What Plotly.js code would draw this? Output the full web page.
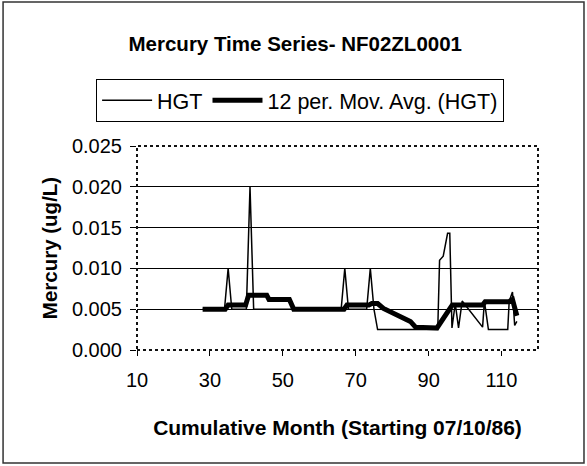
<!DOCTYPE html>
<html>
<head>
<meta charset="utf-8">
<script src="https://cdn.plot.ly/plotly-3.0.1.min.js"></script>
<style>html,body{margin:0;padding:0;background:#fff;}#chart{width:587px;height:466px;}</style>
</head>
<body>
<div id="chart"></div>
<script>
// HGT measured values (cumulative month, mercury ug/L)
var hgtMonths = [28, 34, 35, 36, 40, 41, 42, 66, 67, 68, 73, 74, 75, 76, 92.5, 93, 94, 95.2, 95.8, 96.4, 97.3, 98.2, 99.2, 100.1, 104.8, 105.3, 106.4, 111.7, 112.1, 113, 113.6, 114.2];
var hgtValues = [0.005, 0.005, 0.010, 0.005, 0.005, 0.020, 0.005, 0.005, 0.010, 0.005, 0.005, 0.010, 0.005, 0.0025, 0.0025, 0.011, 0.0115, 0.0143, 0.0143, 0.0027, 0.0057, 0.0027, 0.006, 0.0055, 0.0028, 0.006, 0.0025, 0.0025, 0.006, 0.0071, 0.003, 0.0035];

// 12 per. moving average of HGT
var maMonths = [28, 34.2, 35, 39.8, 40.6, 45.6, 46.2, 51.8, 53, 66.8, 67.6, 73.6, 74.4, 76, 77.6, 82.3, 85, 86.4, 92.3, 96, 96.5, 104.8, 105.5, 112, 113, 113.6, 114.2];
var maValues = [0.005, 0.005, 0.0055, 0.0055, 0.0067, 0.0067, 0.0062, 0.0062, 0.005, 0.005, 0.0055, 0.0055, 0.0057, 0.0057, 0.0051, 0.0041, 0.0035, 0.0028, 0.0027, 0.0052, 0.0055, 0.0055, 0.0059, 0.0059, 0.0062, 0.0052, 0.0042];

var xRange = [10, 120];
var yRange = [0, 0.025];

var FONT = 'Arial, "Liberation Sans", Helvetica, sans-serif';

var traces = [
  {x: hgtMonths, y: hgtValues, type: 'scatter', mode: 'lines', name: 'HGT',
   line: {color: '#000', width: 1.5}},
  {x: maMonths, y: maValues, type: 'scatter', mode: 'lines', name: '12 per. Mov. Avg. (HGT)',
   line: {color: '#000', width: 5}}
];

var layout = {
  width: 587, height: 466, autosize: false,
  margin: {l: 137, r: 49, t: 146, b: 116, pad: 0},
  paper_bgcolor: '#fff', plot_bgcolor: '#fff',
  font: {family: FONT, color: '#000'},
  title: {text: 'Mercury Time Series- NF02ZL0001', font: {size: 20.5, weight: 'bold', family: FONT, color: '#000'},
          x: 0.503, xanchor: 'center', y: 0.905, yanchor: 'middle', xref: 'container', yref: 'container'},
  showlegend: true,
  legend: {orientation: 'h', x: -0.102, xanchor: 'left', y: 1.33, yanchor: 'top',
           bordercolor: '#000', borderwidth: 1, bgcolor: '#fff',
           font: {size: 21.5, family: FONT, color: '#000'}, itemwidth: 50, tracegroupgap: 0},
  xaxis: {range: xRange, tick0: 10, dtick: 20,
          ticks: 'outside', ticklen: 5, tickcolor: '#000', tickwidth: 1,
          showgrid: false, zeroline: false, showline: false,
          tickfont: {size: 20, family: FONT, color: '#000'}, ticklabelstandoff: 7,
          title: {text: 'Cumulative Month (Starting 07/10/86)', font: {size: 21, weight: 'bold', family: FONT, color: '#000'}, standoff: 30}},
  yaxis: {range: yRange, tick0: 0, dtick: 0.005, tickformat: '.3f',
          ticks: 'outside', ticklen: 6, tickcolor: '#000', tickwidth: 1,
          showgrid: true, gridcolor: '#000', gridwidth: 1, zeroline: false, showline: false,
          tickfont: {size: 20, family: FONT, color: '#000'}, ticklabelstandoff: 4,
          title: {text: 'Mercury (ug/L)', font: {size: 20.5, weight: 'bold', family: FONT, color: '#000'}, standoff: 8}},
  shapes: [
    {type: 'rect', xref: 'paper', yref: 'paper', x0: 0, x1: 1, y0: 0, y1: 1,
     line: {color: '#111', width: 2, dash: 'dot'}, layer: 'above'},
    {type: 'rect', xref: 'paper', yref: 'paper', x0: -0.334, x1: 1.1147, y0: -0.554, y1: 1.706,
     line: {color: '#333', width: 1.5}, layer: 'below'}
  ]
};

Plotly.newPlot('chart', traces, layout, {staticPlot: true, displayModeBar: false});
</script>
</body>
</html>
